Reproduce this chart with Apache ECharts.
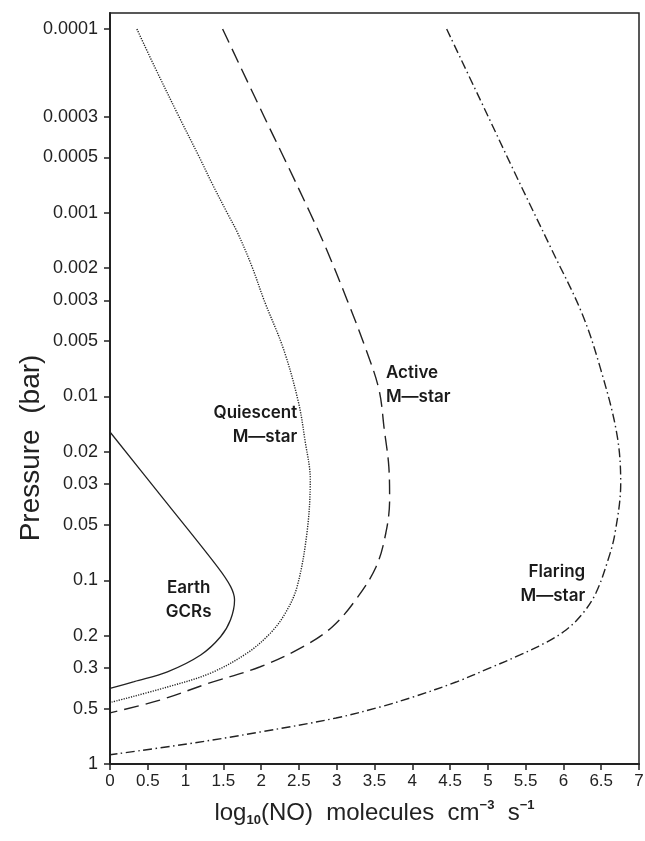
<!DOCTYPE html>
<html>
<head>
<meta charset="utf-8">
<script src="https://cdn.jsdelivr.net/npm/echarts@6.0.0/dist/echarts.min.js"></script>
<style>
    html, body { margin: 0; padding: 0; background: #fff; }
    #chart { width: 645px; height: 841px; }
</style>
</head>
<body>
<div id="chart"></div>
<script>
    // pressure ticks (bar), log axis
    var pressureTicks = ['0.0001', '0.0003', '0.0005', '0.001', '0.002', '0.003', '0.005',
        '0.01', '0.02', '0.03', '0.05', '0.1', '0.2', '0.3', '0.5', '1'];

    // Earth GCRs (solid)
    var earthX = [0, 0.71, 1.42, 1.595, 1.648, 1.595, 1.463, 1.20, 0.76, 0.32, 0];
    var earthP = [0.0156, 0.0362, 0.0843, 0.108, 0.128, 0.164, 0.203, 0.255, 0.315, 0.356, 0.388];

    // Quiescent M-star (dotted)
    var quietX = [0.356, 0.589, 0.913, 1.184, 1.356, 1.55, 1.69, 1.88, 2.04, 2.30, 2.495, 2.58, 2.65,
        2.606, 2.474, 2.32, 2.122, 1.815, 1.331, 0.761, 0];
    var quietP = [0.0001, 0.00016, 0.0003, 0.0005, 0.0007, 0.001, 0.00129, 0.00197, 0.003, 0.00558, 0.0108, 0.0173, 0.0284,
        0.0553, 0.109, 0.151, 0.194, 0.249, 0.320, 0.381, 0.463];

    // Active M-star (dashed)
    var activeX = [1.49, 2.04, 2.30, 2.647, 2.87, 3.14, 3.39, 3.56, 3.63, 3.69, 3.70, 3.65,
        3.52, 3.25, 2.94, 2.55, 1.98, 1.32, 0.66, 0];
    var activeP = [0.0001, 0.0003, 0.0005, 0.001, 0.0016, 0.003, 0.00558, 0.0092, 0.0152, 0.0242, 0.0365, 0.0553,
        0.0847, 0.128, 0.1795, 0.2307, 0.2965, 0.362, 0.449, 0.527];

    // Flaring M-star (dash-dot)
    var flareX = [4.455, 4.90, 5.32, 5.61, 5.846, 6.242, 6.484, 6.705, 6.758, 6.683, 6.590, 6.431,
        6.259, 6.034, 5.756, 5.425, 5.028, 4.579, 4.010, 3.573, 2.991, 1.985, 1.019, 0];
    var flareP = [0.0001, 0.000243, 0.000564, 0.001, 0.00159, 0.0035, 0.0069, 0.0158, 0.0296, 0.0553, 0.0776, 0.117,
        0.151, 0.1865, 0.2195, 0.255, 0.300, 0.358, 0.432, 0.4895, 0.562, 0.670, 0.778, 0.890];

    // curve labels: [text, x, pressure, align]
    var curveLabels = [
        ['Earth\nGCRs', 1.041, 0.128, 'center'],
        ['Quiescent\nM\u2014star', 2.478, 0.01428, 'right'],
        ['Active\nM\u2014star', 3.651, 0.00865, 'left'],
        ['Flaring\nM\u2014star', 6.288, 0.1047, 'right']
    ];

    var ink = '#222';
    var tickVals = pressureTicks.map(Number);

    function pairs(xs, ps) {
        return xs.map(function (x, i) { return [x, ps[i]]; });
    }

    function tickText(v) {
        var best = pressureTicks[0], d = Infinity;
        pressureTicks.forEach(function (t) {
            var dd = Math.abs(Math.log10(v) - Math.log10(+t));
            if (dd < d) { d = dd; best = t; }
        });
        return best;
    }

    function curveLabel(i) {
        var c = curveLabels[i];
        return {
            symbol: 'circle',
            symbolSize: 1,
            itemStyle: { color: 'rgba(0,0,0,0)' },
            data: [{
                coord: [c[1], c[2]],
                label: {
                    show: true,
                    position: 'inside',
                    formatter: c[0],
                    align: c[3],
                    verticalAlign: 'middle',
                    fontFamily: 'Inter',
                    fontWeight: 600,
                    fontSize: 17,
                    lineHeight: 24,
                    color: '#1a1a1a'
                }
            }]
        };
    }

    function curve(name, xs, ps, dash, width, idx) {
        return {
            name: name,
            type: 'line',
            data: pairs(xs, ps),
            showSymbol: false,
            symbol: 'none',
            smooth: 0.35,
            lineStyle: { color: ink, width: width, type: dash },
            markPoint: curveLabel(idx),
            silent: true
        };
    }

    var myChart = echarts.init(document.getElementById('chart'));
    var option = {
        animation: false,
        backgroundColor: '#fff',
        grid: {
            left: 110, right: 6, top: 13, bottom: 77,
            show: true, borderColor: ink, borderWidth: 1.5,
            outerBoundsMode: 'none'
        },
        xAxis: {
            type: 'value',
            min: 0, max: 7, interval: 0.5,
            name: '{a|log}{b|10}{a|(NO)  molecules  cm}{c|\u22123}{a|  s}{c|\u22121}',
            nameLocation: 'middle',
            nameGap: 35,
            nameTextStyle: {
                rich: {
                    a: { fontFamily: 'Liberation Sans', fontSize: 24, color: ink, lineHeight: 28, verticalAlign: 'middle' },
                    b: { fontFamily: 'Liberation Sans', fontSize: 13, fontWeight: 'bold', color: ink, lineHeight: 14, verticalAlign: 'bottom' },
                    c: { fontFamily: 'Liberation Sans', fontSize: 13, fontWeight: 'bold', color: ink, lineHeight: 14, verticalAlign: 'top' }
                }
            },
            axisLine: { show: true, onZero: false, lineStyle: { color: ink, width: 2 } },
            axisTick: { show: true, length: 6, lineStyle: { color: ink, width: 1.5 } },
            axisLabel: {
                fontFamily: 'Liberation Sans', fontSize: 17, color: ink, margin: 9,
                showMinLabel: true, showMaxLabel: true
            },
            splitLine: { show: false }
        },
        yAxis: {
            type: 'log',
            logBase: 10,
            inverse: true,
            min: 8.18e-5, max: 1,
            axisLine: { show: true, onZero: false, lineStyle: { color: ink, width: 2 } },
            axisTick: { show: true, length: 6, customValues: tickVals, lineStyle: { color: ink, width: 1.5 } },
            axisLabel: {
                customValues: tickVals,
                formatter: tickText,
                fontFamily: 'Liberation Sans', fontSize: 18, color: ink, margin: 12
            },
            splitLine: { show: false },
            minorTick: { show: false }
        },
        graphic: [
            {
                type: 'text',
                x: 31, y: 448,
                rotation: Math.PI / 2,
                style: {
                    text: 'Pressure  (bar)',
                    fontFamily: 'Liberation Sans', fontSize: 28,
                    fill: ink,
                    align: 'center', verticalAlign: 'middle'
                }
            }
        ],
        series: [
            curve('Earth GCRs', earthX, earthP, 'solid', 1.3, 0),
            curve('Quiescent M-star', quietX, quietP, [1.2, 1.3], 1.4, 1),
            curve('Active M-star', activeX, activeP, [15, 7], 1.4, 2),
            curve('Flaring M-star', flareX, flareP, [9, 3.5, 1.5, 3.5], 1.4, 3)
        ]
    };
    myChart.setOption(option);
</script>
</body>
</html>
